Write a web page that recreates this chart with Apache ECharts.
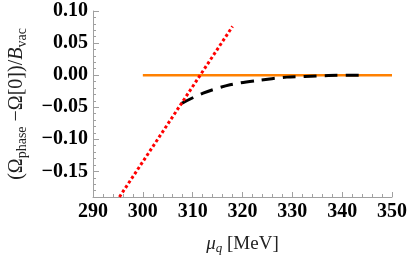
<!DOCTYPE html>
<html><head><meta charset="utf-8">
<script src="https://cdn.jsdelivr.net/npm/echarts@6/dist/echarts.min.js"></script>
<style>html,body{margin:0;padding:0;background:#fff}#c{width:409px;height:258px}</style>
</head><body><div id="c"></div>
<script>
// data
const xTicks = [290, 300, 310, 320, 330, 340, 350];
const yTicks = [-0.15, -0.10, -0.05, 0.00, 0.05, 0.10];
const orangeX = [300, 350];
const orangeY = [0, 0];
const redX = [295.3, 318.0];
const redY = [-0.19, 0.076];
const blackX = [307.8, 312.1, 317.5, 322.9, 328.9, 332.5, 337.2, 341.9, 343.4];
const blackY = [-0.044, -0.028, -0.0151, -0.0084, -0.0031, -0.0020, -0.0006, 0.0, 0.0];

const zip = (a, b) => a.map((v, i) => [v, b[i]]);
const serif = 'Liberation Serif';
const fmt = v => { const s = Number(v).toFixed(2); return s.replace('-', '\u2212'); };
const axisGray = '#a0a0a0';
const nameColor = '#222';

const chart = echarts.init(document.getElementById('c'), null, {renderer: 'canvas'});
chart.setOption({
  animation: false,
  grid: {left: 93, right: 17, top: 11, bottom: 61, containLabel: false, outerBoundsMode: 'none'},
  xAxis: {
    type: 'value', min: 290, max: 350, interval: 10,
    axisLine: {show: true, onZero: false, lineStyle: {color: axisGray, width: 1}},
    axisTick: {show: true, inside: true, length: 5, lineStyle: {color: axisGray}},
    minorTick: {show: true, splitNumber: 5, length: 3, lineStyle: {color: axisGray}},
    splitLine: {show: false},
    axisLabel: {fontFamily: serif, fontWeight: 'bold', fontSize: 20, color: '#000', margin: 5,
      customValues: xTicks, formatter: v => String(v)},
    name: '{i|μ}{s|q} [MeV]',
    nameLocation: 'middle', nameGap: 36,
    nameTextStyle: {fontFamily: serif, fontSize: 19, color: nameColor,
      rich: {
        i: {fontFamily: serif, fontStyle: 'italic', fontSize: 19, color: nameColor},
        s: {fontFamily: serif, fontStyle: 'italic', fontSize: 13, color: nameColor, padding: [9, 0, 0, 0]}
      }}
  },
  yAxis: [{
    type: 'value', min: -0.19, max: 0.1, interval: 0.01,
    axisLine: {show: true, onZero: false, lineStyle: {color: axisGray, width: 1}},
    axisTick: {show: true, inside: true, length: 3, lineStyle: {color: axisGray}},
    splitLine: {show: false},
    axisLabel: {fontFamily: serif, fontWeight: 'bold', fontSize: 20, color: '#000', margin: 5,
      customValues: yTicks, formatter: fmt},
    name: '(Ω{s|phase} −Ω[0])/{i|B}{s|vac}',
    nameLocation: 'middle', nameGap: 64, nameRotate: 90,
    nameTextStyle: {fontFamily: serif, fontSize: 20, color: nameColor,
      rich: {
        i: {fontFamily: serif, fontStyle: 'italic', fontSize: 20, color: nameColor},
        s: {fontFamily: serif, fontSize: 14, color: nameColor, padding: [10, 0, 0, 0]}
      }}
  }, {
    type: 'value', min: -0.19, max: 0.1, position: 'left', gridIndex: 0,
    axisLine: {show: false},
    axisTick: {show: true, inside: true, length: 6, customValues: yTicks, lineStyle: {color: axisGray}},
    axisLabel: {show: false},
    splitLine: {show: false}
  }],
  series: [
    {type: 'line', data: zip(orangeX, orangeY), showSymbol: false, symbol: 'none',
      lineStyle: {color: '#ff8000', width: 2.5}, z: 2},
    {type: 'line', data: zip(blackX, blackY), showSymbol: false, symbol: 'none', smooth: 0.3,
      lineStyle: {color: '#000', width: 3, type: [13, 8]}, z: 3},
    {type: 'line', data: zip(redX, redY), showSymbol: false, symbol: 'none',
      lineStyle: {color: '#ff0000', width: 3, type: [3, 2.5]}, z: 4}
  ]
});
</script></body></html>
